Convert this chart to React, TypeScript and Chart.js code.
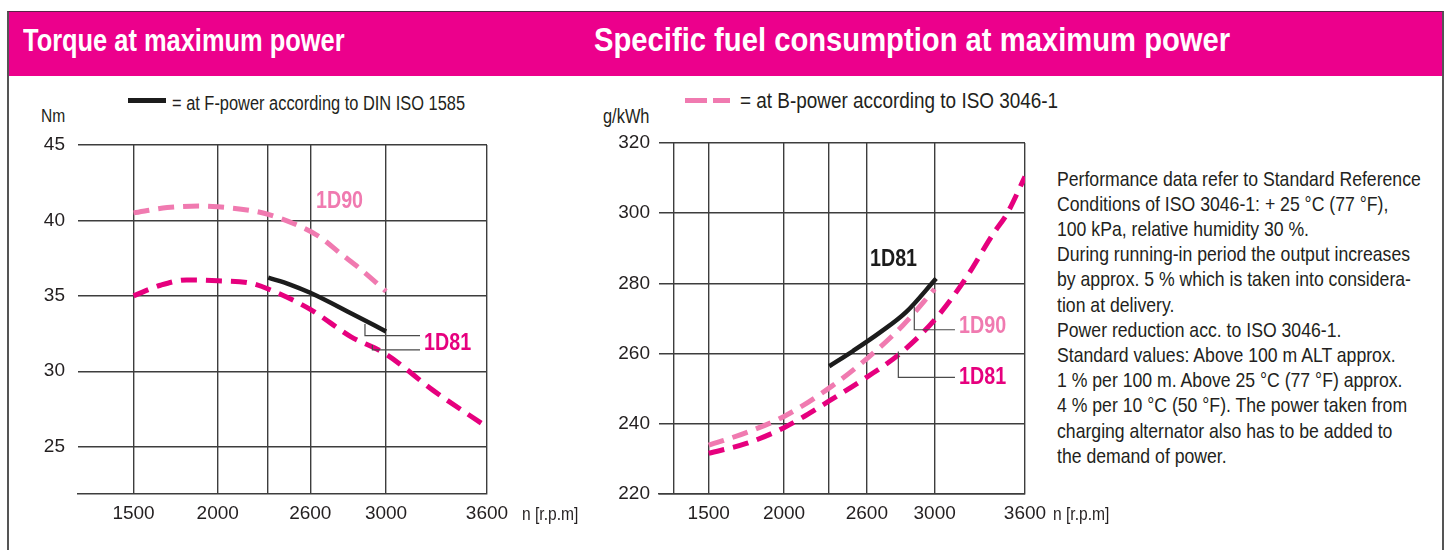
import React, { useEffect, useRef } from 'react';
import { Chart, registerables } from 'chart.js';

Chart.register(...registerables);

const FONT = "'Liberation Sans', Arial, sans-serif";
const SQUEEZE = 0.82; // condensed look of the original typeface
const MAGENTA = '#E6007E';
const PINK = '#F07AB0';
const BLACK = '#1c1c1c';
const TEXT = '#231f20';
const GRID = '#3d3d3d';
const HEADER = '#EC008C';

// ---------- shared engine speed axis ----------
const rpmMin = 1170;
const rpmMax = 3600;
const torqueGridRpm = [1500, 2000, 2300, 2550, 3000, 3600];
const fuelGridRpm = [1270, 1500, 2000, 2300, 2550, 3000, 3600];
const rpmTickValues = [1500, 2000, 2550, 3000, 3600];
const rpmTickLabels = ['1500', '2000', '2600', '3000', '3600'];

// ---------- torque chart (Nm) ----------
const torqueTicks = [25, 30, 35, 40, 45];
const torqueMin = 21.86;
const torqueMax = 45;

const torqueB1D90Rpm = [1500, 1700, 1900, 2000, 2200, 2300, 2450, 2600, 2730, 2850, 3000];
const torqueB1D90Nm = [40.5, 40.85, 40.95, 40.9, 40.65, 40.4, 39.8, 38.95, 37.8, 36.75, 35.3];

const torqueB1D81Rpm = [1500, 1660, 1815, 2000, 2190, 2300, 2550, 2790, 3000, 3280, 3600];
const torqueB1D81Nm = [35.0, 35.7, 36.05, 36.0, 35.85, 35.45, 34.1, 32.3, 31.13, 28.73, 26.3];

const torqueF1D81Rpm = [2300, 2430, 2550, 2800, 3000];
const torqueF1D81Nm = [36.2, 35.75, 35.2, 33.8, 32.64];

// ---------- specific fuel consumption chart (g/kWh) ----------
const fuelTicks = [220, 240, 260, 280, 300, 320];
const fuelMin = 220;
const fuelMax = 320;

const fuelB1D81Rpm = [1500, 1750, 2000, 2300, 2550, 2770, 3000, 3200, 3390, 3480, 3600];
const fuelB1D81G = [231.6, 234.4, 238.9, 246.5, 253.3, 260.0, 269.6, 281.0, 294.2, 299.8, 310.4];

const fuelB1D90Rpm = [1500, 1750, 2000, 2320, 2570, 2790, 3000];
const fuelB1D90G = [233.9, 237.5, 242.1, 250.8, 259.3, 268.1, 278.4];

const fuelF1D81Rpm = [2300, 2460, 2640, 2810, 3010];
const fuelF1D81G = [256.4, 260.8, 266.1, 271.8, 281.4];

// ---------- curve labels & leader lines (data coordinates) ----------
const torqueNotes = [
  { text: '1D90', color: PINK, x: 2584, y: 41.29 },
  { text: '1D81', color: MAGENTA, x: 3226, y: 31.85 },
];
const torqueLeaders = [
  [[2875, 33.13], [2875, 32.36], [3202, 32.36]],
  [[2919, 31.74], [2919, 31.41], [3202, 31.41]],
];
const fuelNotes = [
  { text: '1D81', color: BLACK, x: 2571, y: 286.75 },
  { text: '1D90', color: PINK, x: 3162, y: 267.75 },
  { text: '1D81', color: MAGENTA, x: 3162, y: 253.2 },
];
const fuelLeaders = [
  [[2865, 273.45], [2865, 266.8], [3135, 266.8]],
  [[2759, 260.6], [2759, 253.2], [3135, 253.2]],
];

const infoLines = [
  'Performance data refer to Standard Reference',
  'Conditions of ISO 3046-1: + 25 °C (77 °F),',
  '100 kPa, relative humidity 30 %.',
  'During running-in period the output increases',
  'by approx. 5 % which is taken into considera-',
  'tion at delivery.',
  'Power reduction acc. to ISO 3046-1.',
  'Standard values:  Above 100 m ALT approx.',
  '1 % per 100 m.  Above 25 °C (77 °F) approx.',
  '4 % per 10 °C (50 °F).  The power taken from',
  'charging alternator also has to be added to',
  'the demand of power.',
];

const pts = (xs: number[], ys: number[]) => xs.map((x, i) => ({ x, y: ys[i] }));

function notesPlugin(notes: any[], leaders: number[][][]) {
  return {
    id: 'curveNotes',
    afterDatasetsDraw(chart: any) {
      const { ctx } = chart;
      const xs = chart.scales.x;
      const ys = chart.scales.y;
      ctx.save();
      ctx.strokeStyle = '#4a4a4a';
      ctx.lineWidth = 1.2;
      leaders.forEach((path) => {
        ctx.beginPath();
        path.forEach(([a, b], i) => {
          const px = xs.getPixelForValue(a);
          const py = ys.getPixelForValue(b);
          if (i === 0) ctx.moveTo(px, py);
          else ctx.lineTo(px, py);
        });
        ctx.stroke();
      });
      ctx.font = `bold 24px ${FONT}`;
      ctx.textAlign = 'left';
      ctx.textBaseline = 'middle';
      notes.forEach((n) => {
        ctx.save();
        ctx.translate(xs.getPixelForValue(n.x), ys.getPixelForValue(n.y));
        ctx.scale(SQUEEZE, 1);
        ctx.fillStyle = n.color;
        ctx.fillText(n.text, 0, 0);
        ctx.restore();
      });
      ctx.restore();
    },
  };
}

function dashed(data: any[], color: string) {
  return {
    data,
    borderColor: color,
    borderWidth: 5,
    borderDash: [16, 9],
    borderCapStyle: 'butt',
    pointRadius: 0,
    fill: false,
    cubicInterpolationMode: 'monotone',
  };
}
function solid(data: any[], color: string) {
  return {
    data,
    borderColor: color,
    borderWidth: 4.5,
    borderCapStyle: 'butt',
    pointRadius: 0,
    fill: false,
    cubicInterpolationMode: 'monotone',
  };
}

function makeConfig(opts: any) {
  return {
    type: 'line',
    data: { datasets: opts.datasets },
    options: {
      responsive: false,
      animation: false,
      devicePixelRatio: 1,
      layout: { padding: opts.padding },
      plugins: { legend: { display: false }, tooltip: { enabled: false } },
      scales: {
        x: {
          type: 'linear',
          min: rpmMin,
          max: rpmMax,
          afterBuildTicks: (s: any) => {
            s.ticks = opts.xGrid.map((v: number) => ({ value: v }));
          },
          afterFit: (s: any) => {
            s.height = opts.xHeight;
            s.paddingLeft = 0;
            s.paddingRight = 0;
          },
          ticks: {
            autoSkip: false,
            maxRotation: 0,
            padding: 8,
            color: TEXT,
            font: { family: FONT, size: 19 },
            callback: (v: number) => {
              const i = rpmTickValues.indexOf(v);
              return i >= 0 ? rpmTickLabels[i] : '';
            },
          },
          grid: { color: GRID, lineWidth: 1.4, drawTicks: false },
          border: { display: true, color: GRID, width: 1.6 },
        },
        y: {
          type: 'linear',
          min: opts.yMin,
          max: opts.yMax,
          afterBuildTicks: (s: any) => {
            s.ticks = opts.yTicks.map((v: number) => ({ value: v }));
          },
          afterFit: (s: any) => {
            s.width = opts.yWidth;
            s.paddingTop = 0;
            s.paddingBottom = 0;
          },
          ticks: {
            padding: opts.yPad,
            color: TEXT,
            font: { family: FONT, size: 19 },
            callback: (v: number) => String(v),
          },
          grid: { color: GRID, lineWidth: 1.4, drawTicks: false },
          border: { display: false },
        },
      },
    },
    plugins: [notesPlugin(opts.notes, opts.leaders)],
  };
}

function ChartBox({ config, left, top, width, height }: any) {
  const ref = useRef<HTMLCanvasElement>(null);
  useEffect(() => {
    const chart = new Chart(ref.current as HTMLCanvasElement, config);
    return () => chart.destroy();
  }, []);
  return (
    <canvas
      ref={ref}
      width={width}
      height={height}
      style={{ position: 'absolute', left, top, width, height }}
    />
  );
}

function Txt({ x, cy, fs, bold, color, sx, children }: any) {
  return (
    <div
      style={{
        position: 'absolute',
        left: x,
        top: cy - 0.49 * fs,
        fontFamily: FONT,
        fontSize: fs,
        lineHeight: `${fs}px`,
        fontWeight: bold ? 700 : 400,
        color: color || TEXT,
        whiteSpace: 'nowrap',
        transform: `scaleX(${sx || SQUEEZE})`,
        transformOrigin: 'left center',
      }}
    >
      {children}
    </div>
  );
}

export default function App() {
  const torqueConfig = makeConfig({
    datasets: [
      solid(pts(torqueF1D81Rpm, torqueF1D81Nm), BLACK),
      dashed(pts(torqueB1D81Rpm, torqueB1D81Nm), MAGENTA),
      dashed(pts(torqueB1D90Rpm, torqueB1D90Nm), PINK),
    ],
    yMin: torqueMin,
    yMax: torqueMax,
    yTicks: torqueTicks,
    xGrid: torqueGridRpm,
    yWidth: 78,
    yPad: 13,
    xHeight: 56,
    padding: { left: 0, top: 15, right: 103, bottom: 0 },
    notes: torqueNotes,
    leaders: torqueLeaders,
  });
  const fuelConfig = makeConfig({
    datasets: [
      solid(pts(fuelF1D81Rpm, fuelF1D81G), BLACK),
      dashed(pts(fuelB1D90Rpm, fuelB1D90G), PINK),
      dashed(pts(fuelB1D81Rpm, fuelB1D81G), MAGENTA),
    ],
    yMin: fuelMin,
    yMax: fuelMax,
    yTicks: fuelTicks,
    xGrid: fuelGridRpm,
    yWidth: 74,
    yPad: 9,
    xHeight: 56,
    padding: { left: 0, top: 15, right: 22, bottom: 0 },
    notes: fuelNotes,
    leaders: fuelLeaders,
  });

  return (
    <div style={{ position: 'absolute', left: 0, top: 0, width: 1450, height: 550, overflow: 'hidden', background: '#fff' }}>
      {/* frame */}
      <div
        style={{
          position: 'absolute',
          left: 7,
          top: 11,
          width: 1433,
          height: 560,
          borderLeft: '2px solid #555',
          borderRight: '2px solid #555',
          borderTop: '1px solid #5a2346',
        }}
      />
      {/* header */}
      <div style={{ position: 'absolute', left: 9, top: 12, width: 1433, height: 64, background: HEADER }} />
      <Txt x={23} cy={40} fs={31} bold color="#fff">Torque at maximum power</Txt>
      <Txt x={594} cy={39.5} fs={33} bold color="#fff" sx={0.885}>Specific fuel consumption at maximum power</Txt>

      {/* left legend */}
      <div style={{ position: 'absolute', left: 128, top: 97.5, width: 38, height: 5, background: BLACK }} />
      <Txt x={172} cy={102.5} fs={20}>= at F-power according to DIN ISO 1585</Txt>
      <Txt x={41} cy={115} fs={19}>Nm</Txt>

      {/* right legend */}
      <div style={{ position: 'absolute', left: 685, top: 97.5, width: 22, height: 5, background: PINK }} />
      <div style={{ position: 'absolute', left: 713, top: 97.5, width: 17, height: 5, background: PINK }} />
      <Txt x={740} cy={101} fs={22} sx={0.86}>= at B-power according to ISO 3046-1</Txt>
      <Txt x={603} cy={115.5} fs={20}>g/kWh</Txt>

      <ChartBox config={torqueConfig} left={0} top={130} width={590} height={420} />
      <ChartBox config={fuelConfig} left={585} top={128} width={462} height={422} />

      <Txt x={522} cy={513} fs={19}>n [r.p.m]</Txt>
      <Txt x={1053} cy={513} fs={19}>n [r.p.m]</Txt>

      <div
        style={{
          position: 'absolute',
          left: 1057,
          top: 165.6,
          fontFamily: FONT,
          fontSize: 21,
          lineHeight: '25.2px',
          color: TEXT,
          whiteSpace: 'nowrap',
          transform: 'scaleX(0.84)',
          transformOrigin: 'left top',
        }}
      >
        {infoLines.map((l, i) => (
          <div key={i}>{l}</div>
        ))}
      </div>
    </div>
  );
}
